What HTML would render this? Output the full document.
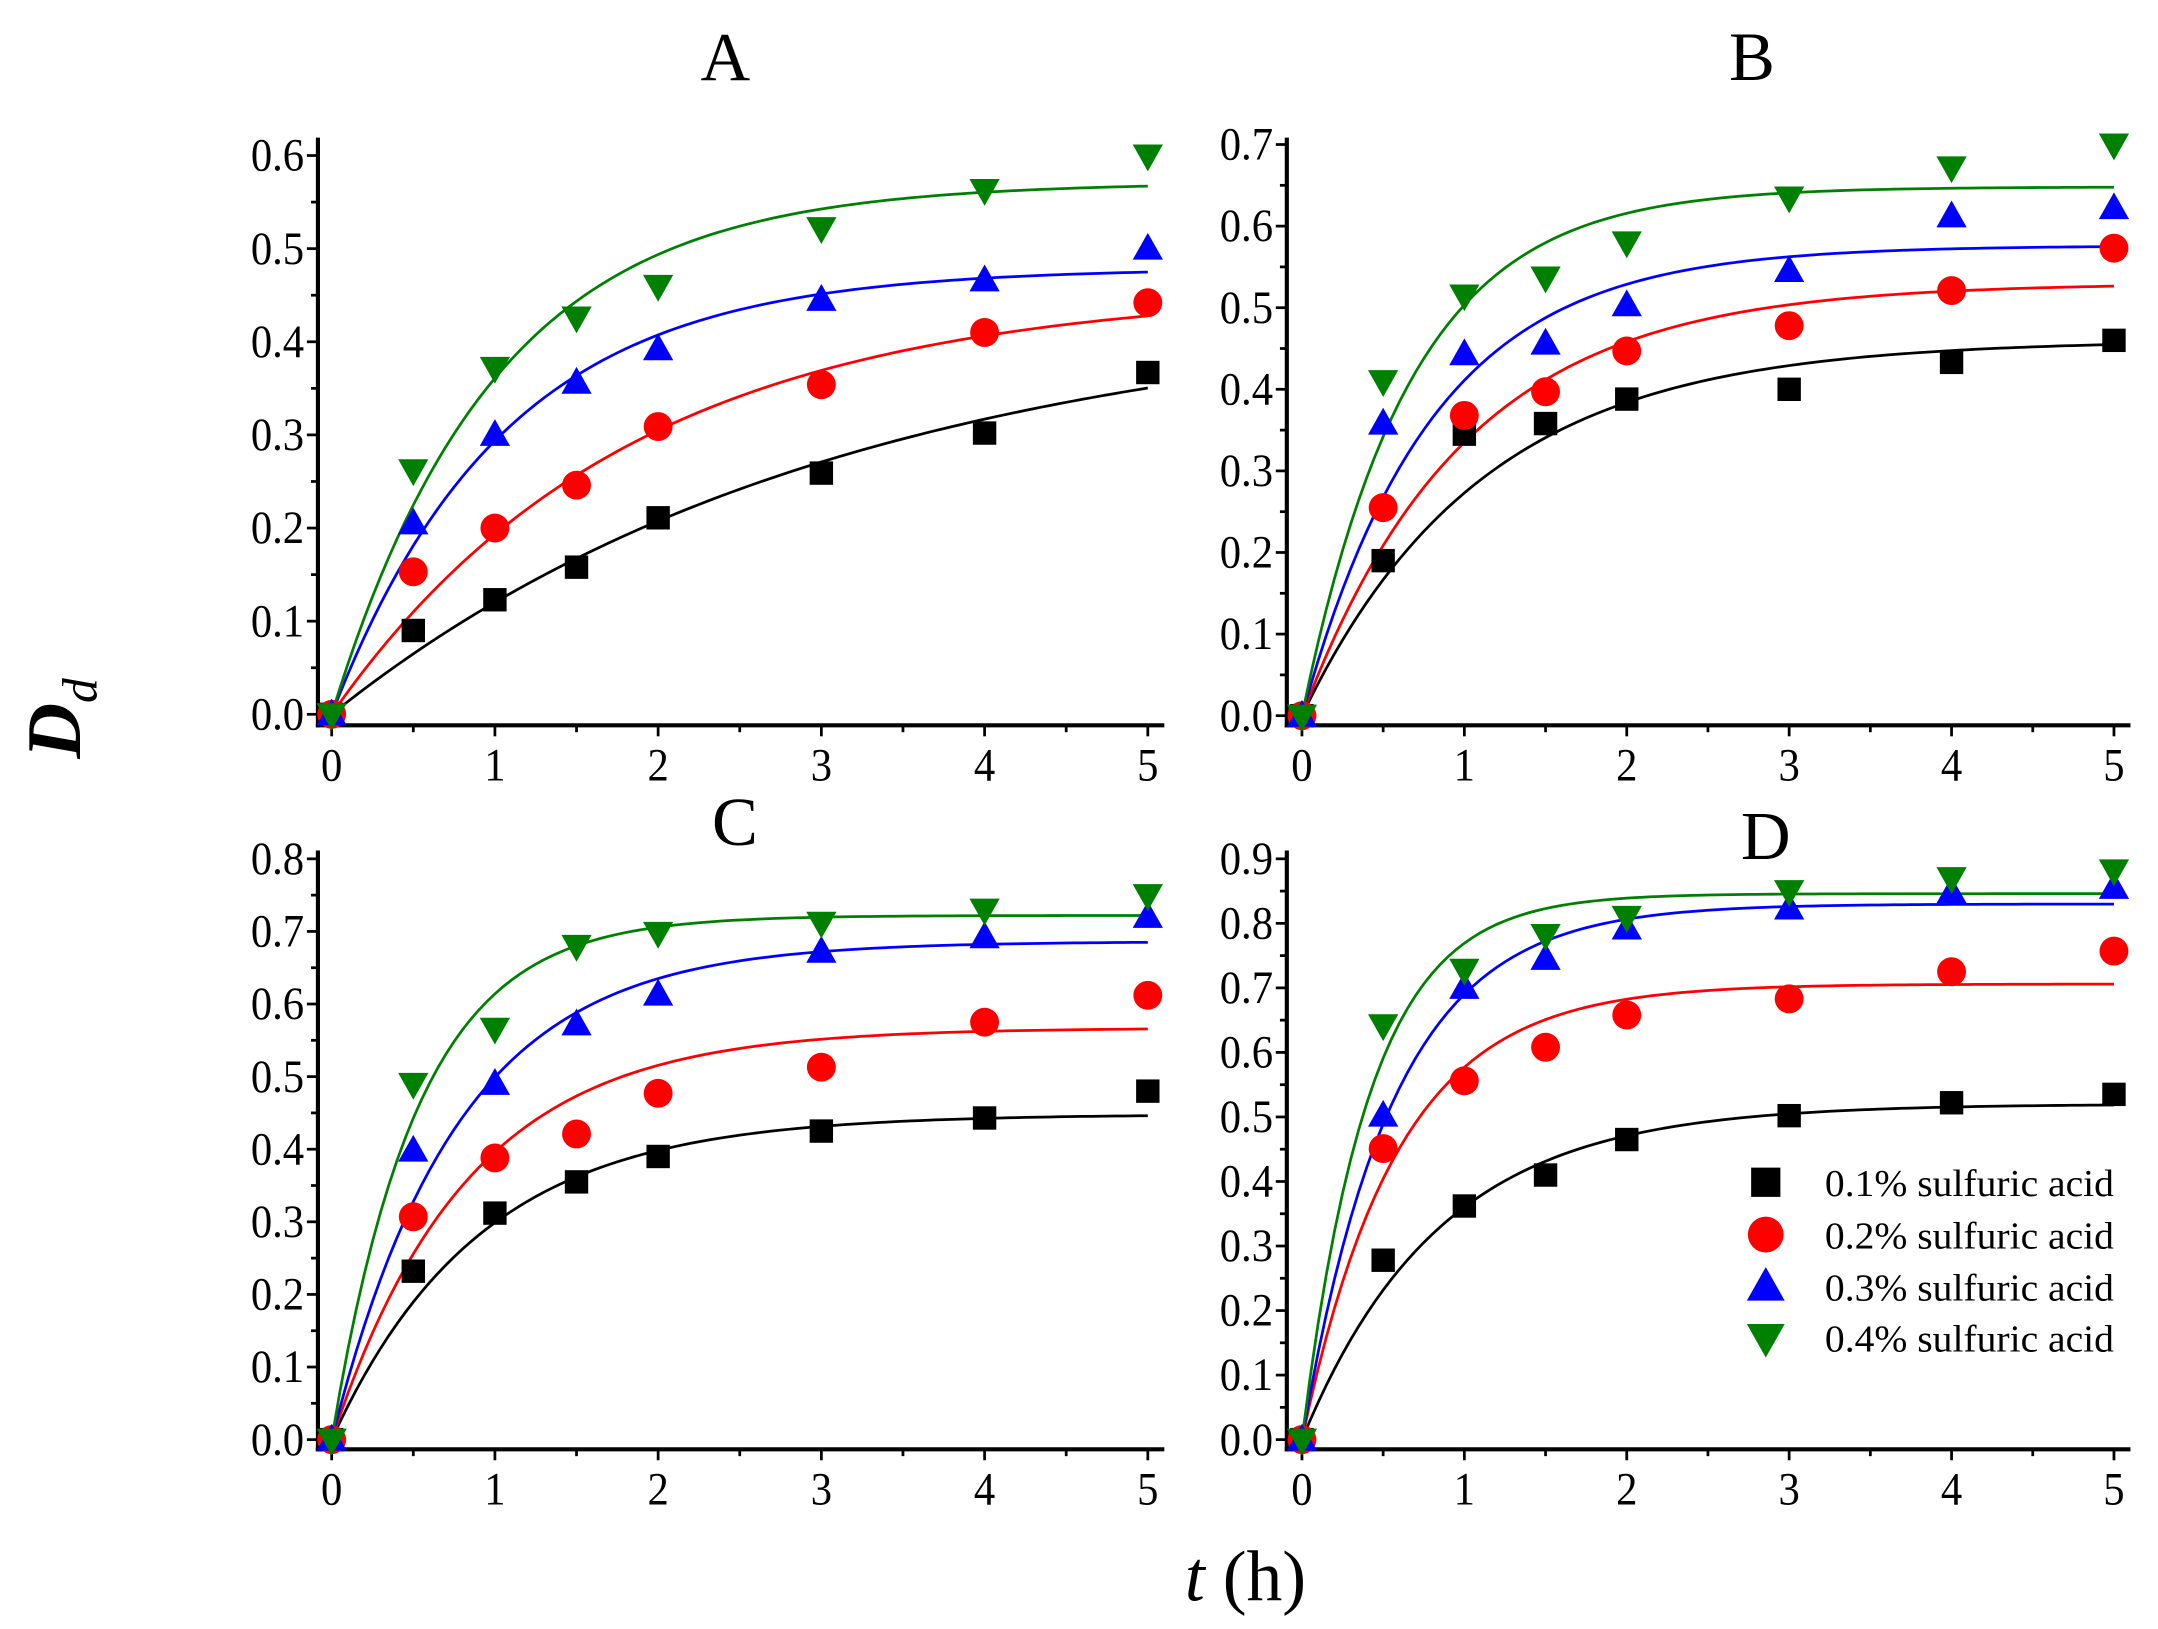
<!DOCTYPE html>
<html><head><meta charset="utf-8"><style>
html,body{margin:0;padding:0;background:#fff;}
svg{display:block;font-family:"Liberation Serif",serif;}
</style></head><body>
<svg id="chart" width="2158" height="1629" viewBox="0 0 1568 1183.6" preserveAspectRatio="none" xmlns="http://www.w3.org/2000/svg">
<text x="58" y="522" font-size="56" font-style="italic" font-weight="bold" transform="rotate(-90 58 522)" text-anchor="middle">D<tspan font-size="36" dy="12" font-weight="normal">d</tspan></text>
<text x="905" y="1163" font-size="52" text-anchor="middle"><tspan font-style="italic">t</tspan> (h)</text>
</svg>
<script>
const times = [0,0.5,1,1.5,2,3,4,5];
const seriesNames = ['0.1% sulfuric acid','0.2% sulfuric acid','0.3% sulfuric acid','0.4% sulfuric acid'];
const colors = ['#000000','#ff0000','#0000ff','#008000'];
const markers = ['square','circle','up','down'];
const dataA = [[0,0.09,0.123,0.158,0.211,0.259,0.302,0.367],[0,0.153,0.2,0.246,0.309,0.354,0.41,0.442],[0,0.205,0.3,0.356,0.392,0.445,0.466,0.5],[0,0.262,0.372,0.426,0.46,0.522,0.563,0.6]];
const dataB = [[0,0.19,0.345,0.358,0.388,0.4,0.433,0.46],[0,0.255,0.368,0.397,0.447,0.478,0.521,0.573],[0,0.358,0.443,0.456,0.503,0.545,0.612,0.622],[0,0.41,0.515,0.537,0.58,0.635,0.672,0.7]];
const dataC = [[0,0.232,0.312,0.355,0.39,0.425,0.443,0.48],[0,0.307,0.388,0.421,0.477,0.513,0.575,0.612],[0,0.398,0.49,0.572,0.613,0.672,0.692,0.72],[0,0.49,0.566,0.68,0.698,0.712,0.73,0.75]];
const dataD = [[0,0.278,0.362,0.41,0.465,0.502,0.522,0.535],[0,0.451,0.556,0.608,0.658,0.683,0.725,0.757],[0,0.502,0.7,0.745,0.792,0.823,0.848,0.855],[0,0.642,0.728,0.782,0.81,0.85,0.87,0.882]];
const fitAmpA = [0.439,0.457,0.479,0.571], fitRateA = [0.32,0.55,0.95,1.0];
const fitAmpB = [0.46,0.53,0.576,0.648], fitRateB = [0.9,1.0,1.25,1.5];
const fitAmpC = [0.448,0.567,0.686,0.722], fitRateC = [1.1,1.2,1.3,1.9];
const fitAmpD = [0.52,0.706,0.83,0.846], fitRateD = [1.18,1.7,1.78,2.4];
const xTicks = [0,1,2,3,4,5];
const yTicksA = [0,0.1,0.2,0.3,0.4,0.5,0.6];
const yTicksB = [0,0.1,0.2,0.3,0.4,0.5,0.6,0.7];
const yTicksC = [0,0.1,0.2,0.3,0.4,0.5,0.6,0.7,0.8];
const yTicksD = [0,0.1,0.2,0.3,0.4,0.5,0.6,0.7,0.8,0.9];

const NS='http://www.w3.org/2000/svg';
const svg=document.getElementById('chart');
function mk(tag,attrs,parent){const e=document.createElementNS(NS,tag);for(const k in attrs)e.setAttribute(k,attrs[k]);(parent||svg).appendChild(e);return e;}

const panels=[
 {id:'a',title:'A',tx:527,ty:58,ax:231,x0:241,x5:834,axR:846,axTop:100,axB:527,y0:519,yTop:113,yMax:0.6,ticks:yTicksA,data:dataA,amp:fitAmpA,rate:fitRateA},
 {id:'b',title:'B',tx:1273,ty:58,ax:935,x0:946,x5:1536,axR:1548,axTop:100,axB:527,y0:520,yTop:105,yMax:0.7,ticks:yTicksB,data:dataB,amp:fitAmpB,rate:fitRateB},
 {id:'c',title:'C',tx:534,ty:614,ax:231,x0:241,x5:834,axR:846,axTop:618,axB:1053,y0:1046,yTop:624,yMax:0.8,ticks:yTicksC,data:dataC,amp:fitAmpC,rate:fitRateC},
 {id:'d',title:'D',tx:1283,ty:624,ax:935,x0:946,x5:1536,axR:1548,axTop:618,axB:1053,y0:1046,yTop:624,yMax:0.9,ticks:yTicksD,data:dataD,amp:fitAmpD,rate:fitRateD}
];

function drawMarker(g,type,cx,cy,color,s){
  let e;
  if(type==='square') e=mk('rect',{x:cx-s*0.85,y:cy-s*0.85,width:s*1.7,height:s*1.7,fill:color},g);
  else if(type==='circle') e=mk('circle',{cx:cx,cy:cy,r:s,fill:color},g);
  else if(type==='up') e=mk('polygon',{points:`${cx},${cy-s*1.15} ${cx-s*1.1},${cy+s*0.8} ${cx+s*1.1},${cy+s*0.8}`,fill:color},g);
  else e=mk('polygon',{points:`${cx},${cy+s*1.15} ${cx-s*1.1},${cy-s*0.8} ${cx+s*1.1},${cy-s*0.8}`,fill:color},g);
  return e;
}

panels.forEach(p=>{
  const g=mk('g',{});
  
  
  const xs=v=>p.x0+(p.x5-p.x0)*v/5;
  const ys=v=>p.y0-(p.y0-p.yTop)*v/p.yMax;
  const t=mk('text',{x:p.tx,y:p.ty,'font-size':50,'text-anchor':'middle'},g);
  t.textContent=p.title;
  
  
  const yl=mk('line',{x1:p.ax,y1:p.axTop,x2:p.ax,y2:p.axB+1.5,stroke:'#000','stroke-width':3},g);
  
  
  const xl=mk('line',{x1:p.ax-1.5,y1:p.axB,x2:p.axR,y2:p.axB,stroke:'#000','stroke-width':3},g);
  
  
  p.ticks.forEach((v,i)=>{
    const y=ys(v);
    mk('line',{x1:p.ax-8,y1:y,x2:p.ax,y2:y,stroke:'#000','stroke-width':2},g);
    if(i<p.ticks.length-1){const ym=ys(v+0.05);mk('line',{x1:p.ax-5,y1:ym,x2:p.ax,y2:ym,stroke:'#000','stroke-width':2},g);}
    const lb=mk('text',{x:p.ax-10,y:y+11,'font-size':31,'text-anchor':'end',transform:`translate(0 ${-(y+11)*0.08}) scale(1 1.08)`},g);
    lb.textContent=v.toFixed(1);
    
    
  });
  xTicks.forEach(v=>{
    const x=xs(v);
    mk('line',{x1:x,y1:p.axB,x2:x,y2:p.axB+8,stroke:'#000','stroke-width':2},g);
    if(v<5){const xm=xs(v+0.5);mk('line',{x1:xm,y1:p.axB,x2:xm,y2:p.axB+5,stroke:'#000','stroke-width':2},g);}
    const ly=p.axB+40;
    const lb=mk('text',{x:x,y:ly,'font-size':31,'text-anchor':'middle',transform:`translate(0 ${-ly*0.08}) scale(1 1.08)`},g);
    lb.textContent=String(v);
    
    
  });
  p.amp.forEach((a,si)=>{
    let d='';
    for(let i=0;i<=100;i++){const tt=5*i/100;const v=a*(1-Math.exp(-p.rate[si]*tt));d+=(i?'L':'M')+xs(tt).toFixed(2)+','+ys(v).toFixed(2);}
    const path=mk('path',{d:d,fill:'none',stroke:colors[si],'stroke-width':2},g);
    
    
  });
  p.data.forEach((arr,si)=>{
    arr.forEach((v,i)=>{
      const m=drawMarker(g,markers[si],xs(times[i]),ys(v),colors[si],si===1?10.5:10);
      
      
    });
  });
});

const lg=mk('g',{});


const legY=[859,897,935,972];
seriesNames.forEach((n,i)=>{
  const m=drawMarker(lg,markers[i],1283,legY[i],colors[i],i===1?13:12.5);
  
  
  const t=mk('text',{x:1326,y:legY[i]+10,'font-size':28,textLength:210,lengthAdjust:'spacingAndGlyphs'},lg);
  t.textContent=n;
  
  
});
</script>
</body></html>
